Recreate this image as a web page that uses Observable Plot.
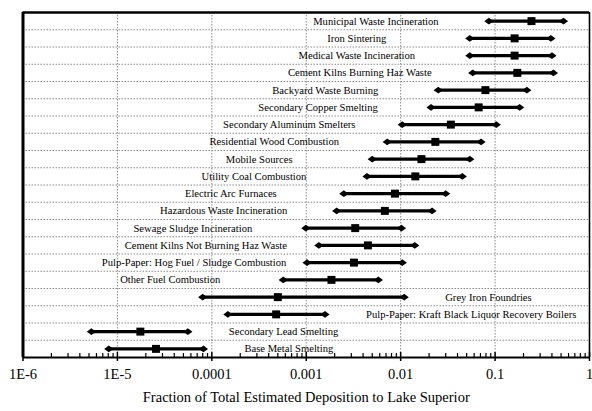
<!DOCTYPE html>
<html><head><meta charset="utf-8">
<script src="https://cdn.jsdelivr.net/npm/d3@7"></script>
<script src="https://cdn.jsdelivr.net/npm/@observablehq/plot@0.6"></script>
<style>body{margin:0;background:#fff}</style>
</head><body><div id="chart"></div>
<script>
const categories = [
  "Municipal Waste Incineration",
  "Iron Sintering",
  "Medical Waste Incineration",
  "Cement Kilns Burning Haz Waste",
  "Backyard Waste Burning",
  "Secondary Copper Smelting",
  "Secondary Aluminum Smelters",
  "Residential Wood Combustion",
  "Mobile Sources",
  "Utility Coal Combustion",
  "Electric Arc Furnaces",
  "Hazardous Waste Incineration",
  "Sewage Sludge Incineration",
  "Cement Kilns Not Burning Haz Waste",
  "Pulp-Paper: Hog Fuel / Sludge Combustion",
  "Other Fuel Combustion",
  "Grey Iron Foundries",
  "Pulp-Paper: Kraft Black Liquor Recovery Boilers",
  "Secondary Lead Smelting",
  "Base Metal Smelting"
];
const low  = [0.086, 0.054, 0.054, 0.058, 0.025, 0.021, 0.0104, 0.0072, 0.0050, 0.0044, 0.0025, 0.0021, 0.00099, 0.00136, 0.00102, 0.00057, 0.00008, 0.000148, 0.0000053, 0.0000081];
const mid  = [0.243, 0.161, 0.161, 0.172, 0.079, 0.067, 0.034, 0.0233, 0.0166, 0.0143, 0.0087, 0.0068, 0.0033, 0.0045, 0.0032, 0.00185, 0.0005, 0.00048, 0.0000175, 0.0000256];
const high = [0.53, 0.39, 0.40, 0.415, 0.217, 0.182, 0.103, 0.071, 0.054, 0.045, 0.030, 0.0215, 0.0102, 0.0141, 0.0104, 0.0058, 0.0109, 0.00158, 0.0000557, 0.0000815];
const labelSide = ["left","left","left","left","left","left","left","left","left","left","left","left","left","left","left","left","right","right","right","right"];
const tickValues = [1e-6, 1e-5, 1e-4, 1e-3, 1e-2, 1e-1, 1];
const tickLabels = ["1E-6", "1E-5", "0.0001", "0.001", "0.01", "0.1", "1"];
const xTitle = "Fraction of Total Estimated Deposition to Lake Superior";

const rows = categories.map((name, i) => ({name, row: i + 0.5, low: low[i], mid: mid[i], high: high[i], side: labelSide[i]}));
const gridValues = tickValues.slice(1, -1);
const minorTicks = [];
for (let e = -6; e < 0; e++) for (let m = 2; m <= 9; m++) minorTicks.push(m * Math.pow(10, e));

const W = 592, H = 411, mT = 12, mB = 54, mL = 22.5, mR = 3;
const plotH = H - mT - mB;
const wideDiamond = {draw(ctx, size) {
  const r = Math.sqrt(size / Math.PI), hx = r * 1.15, hy = r * 0.85;
  ctx.moveTo(-hx, 0); ctx.lineTo(0, -hy); ctx.lineTo(hx, 0); ctx.lineTo(0, hy); ctx.closePath();
}};
const grid = {stroke: "#8a8a8a", strokeDasharray: "1.5,1.5", strokeWidth: 1};
const font = 10.6;

const chart = Plot.plot({
  width: W, height: H, marginTop: mT, marginBottom: mB, marginLeft: mL, marginRight: mR,
  style: {fontFamily: "'Liberation Serif','Times New Roman',serif", background: "#fff", color: "#000", overflow: "visible"},
  x: {type: "log", domain: [1e-6, 1], axis: null},
  y: {domain: [0, categories.length], reverse: true, axis: null},
  marks: [
    Plot.ruleY(d3.range(1, categories.length), grid),
    Plot.ruleX(gridValues, grid),
    Plot.ruleX(minorTicks, {stroke: "#000", strokeWidth: 1.2, insetTop: plotH - 4}),
    Plot.ruleX(tickValues, {stroke: "#000", strokeWidth: 1.5, insetTop: plotH - 5, insetBottom: -4}),
    Plot.ruleX([1e-6], {stroke: "#000", strokeWidth: 3}),
    Plot.ruleX([1], {stroke: "#000", strokeWidth: 1.6}),
    Plot.ruleY([0], {stroke: "#000", strokeWidth: 2.5}),
    Plot.ruleY([categories.length], {stroke: "#000", strokeWidth: 2}),
    Plot.ruleY(rows, {y: "row", x1: "low", x2: "high", stroke: "#000", strokeWidth: 3.2}),
    Plot.dot(rows, {x: "low", y: "row", symbol: wideDiamond, r: 4, fill: "#000", stroke: null}),
    Plot.dot(rows, {x: "high", y: "row", symbol: wideDiamond, r: 4, fill: "#000", stroke: null}),
    Plot.dot(rows, {x: "mid", y: "row", symbol: "square", r: 4.5, fill: "#000", stroke: null}),
    Plot.text(rows.filter(d => d.side === "left"), {x: "low", y: "row", text: "name", dx: -113, textAnchor: "middle", fontSize: font, fill: "#000"}),
    Plot.text(rows.filter(d => d.side === "right"), {x: "high", y: "row", text: "name", dx: 41, textAnchor: "start", fontSize: font, fill: "#000"}),
    Plot.text(tickValues, {x: d => d, text: (d, i) => tickLabels[i], frameAnchor: "bottom", dy: 21, fontSize: 14.5, fill: "#000"}),
    Plot.text([xTitle], {frameAnchor: "bottom", dy: 44, fontSize: 14.5, fill: "#000"})
  ]
});
document.getElementById("chart").append(chart);
</script>
</body></html>
